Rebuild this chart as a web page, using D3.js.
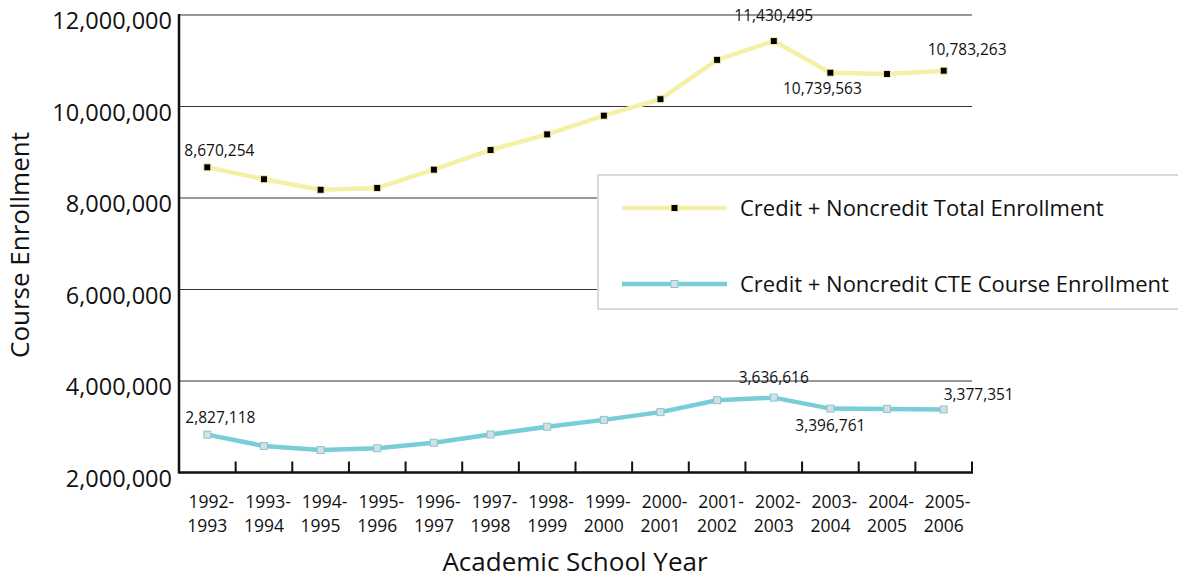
<!DOCTYPE html>
<html>
<head>
<meta charset="utf-8">
<script src="https://cdn.jsdelivr.net/npm/d3@7"></script>
<style>
  body { margin: 0; background: #fff; }
  svg text { font-family: 'Open Sans', 'Noto Sans', sans-serif; fill: #111; }
</style>
</head>
<body>
<svg id="chart" width="1178" height="581"></svg>
<script>
const years = [
  ['1992-', '1993'], ['1993-', '1994'], ['1994-', '1995'], ['1995-', '1996'],
  ['1996-', '1997'], ['1997-', '1998'], ['1998-', '1999'], ['1999-', '2000'],
  ['2000-', '2001'], ['2001-', '2002'], ['2002-', '2003'], ['2003-', '2004'],
  ['2004-', '2005'], ['2005-', '2006'],
]
const totalEnroll = [
  8670254, 8410000, 8180000, 8220000, 8620000, 9050000, 9390000,
  9800000, 10160000, 11020000, 11430495, 10739563, 10710000, 10783263,
]
const cteEnroll = [
  2827118, 2580000, 2490000, 2530000, 2650000, 2830000, 3000000,
  3150000, 3320000, 3580000, 3636616, 3396761, 3390000, 3377351,
]
const yTicks = [2000000, 4000000, 6000000, 8000000, 10000000, 12000000]
// which points get a value label, and where (dx, dy, anchor)
const totalLabels = [
  { i: 0, dx: -23, dy: -11, anchor: 'start' },
  { i: 10, dx: 0, dy: -20, anchor: 'middle' },
  { i: 11, dx: -8, dy: 21, anchor: 'middle' },
  { i: 13, dx: -16, dy: -16, anchor: 'start' },
]
const cteLabels = [
  { i: 0, dx: -22, dy: -12, anchor: 'start' },
  { i: 10, dx: 0, dy: -15, anchor: 'middle' },
  { i: 11, dx: 0, dy: 22, anchor: 'middle' },
  { i: 13, dx: 0, dy: -9, anchor: 'start' },
]

const YELLOW = '#f5f0a8'
const CYAN = '#78cdd8'

const mLeft = 179, mRight = 972, mTop = 15, mBottom = 472.5
const svg = d3.select('#chart')
const fmt = d3.format(',')

const xs = d3.scaleBand().domain(d3.range(years.length)).range([mLeft, mRight])
const ys = d3.scaleLinear().domain([2000000, 12000000]).range([mBottom, mTop])
const cx = (i) => xs(i) + xs.bandwidth() / 2

// grid lines
svg.append('g')
  .selectAll('line')
  .data(yTicks.slice(1))
  .join('line')
  .attr('x1', mLeft).attr('x2', mRight)
  .attr('y1', (d) => ys(d)).attr('y2', (d) => ys(d))
  .attr('stroke', '#333').attr('stroke-width', 1.2)

// y tick labels
svg.append('g')
  .selectAll('text')
  .data(yTicks)
  .join('text')
  .attr('x', mLeft - 7)
  .attr('y', (d) => ys(d) + 14)
  .attr('text-anchor', 'end')
  .style('font-size', '23.5px')
  .text((d) => fmt(d))

// axes lines
svg.append('line')
  .attr('x1', mLeft).attr('x2', mLeft).attr('y1', mTop - 1).attr('y2', mBottom + 1)
  .attr('stroke', '#111').attr('stroke-width', 2.5)
svg.append('line')
  .attr('x1', mLeft).attr('x2', mRight + 1).attr('y1', mBottom).attr('y2', mBottom)
  .attr('stroke', '#111').attr('stroke-width', 2.5)

// x ticks at band boundaries, pointing up
svg.append('g')
  .selectAll('line')
  .data(d3.range(1, years.length + 1))
  .join('line')
  .attr('x1', (i) => xs(0) + i * xs.step())
  .attr('x2', (i) => xs(0) + i * xs.step())
  .attr('y1', mBottom).attr('y2', mBottom - 11)
  .attr('stroke', '#111').attr('stroke-width', 2)

// x tick labels
let xl = svg.append('g')
  .selectAll('text')
  .data(years)
  .join('text')
  .attr('text-anchor', 'middle')
  .style('font-size', '17.5px')
xl.append('tspan').attr('x', (d, i) => cx(i) + 4).attr('y', 508).text((d) => d[0])
xl.append('tspan').attr('x', (d, i) => cx(i)).attr('y', 532).text((d) => d[1])

// axis titles
svg.append('text')
  .attr('x', 575).attr('y', 571)
  .attr('text-anchor', 'middle')
  .style('font-size', '26px')
  .text('Academic School Year')
svg.append('text')
  .attr('transform', 'translate(29, 245) rotate(-90)')
  .attr('text-anchor', 'middle')
  .style('font-size', '26px')
  .text('Course Enrollment')

const line = d3.line().x((d, i) => cx(i)).y((d) => ys(d))

function drawSeries(values, color, markFill, markStroke, labels) {
  svg.append('path')
    .datum(values)
    .attr('d', line)
    .attr('fill', 'none')
    .attr('stroke', color)
    .attr('stroke-width', 4.5)
    .attr('stroke-linejoin', 'round')
  svg.append('g')
    .selectAll('rect')
    .data(values)
    .join('rect')
    .attr('x', (d, i) => cx(i) - 3.5)
    .attr('y', (d) => ys(d) - 3.5)
    .attr('width', 7).attr('height', 7)
    .attr('fill', markFill)
    .attr('stroke', markStroke).attr('stroke-width', 1)
  svg.append('g')
    .selectAll('text')
    .data(labels)
    .join('text')
    .attr('x', (d) => cx(d.i) + d.dx)
    .attr('y', (d) => ys(values[d.i]) + d.dy)
    .attr('text-anchor', (d) => d.anchor)
    .style('font-size', '15.5px')
    .text((d) => fmt(values[d.i]))
}

drawSeries(totalEnroll, YELLOW, '#000', YELLOW, totalLabels)
drawSeries(cteEnroll, CYAN, '#dcdcdc', CYAN, cteLabels)

// legend
let lg = svg.append('g').attr('transform', 'translate(598, 175)')
lg.append('rect')
  .attr('width', 590).attr('height', 134)
  .attr('fill', '#fff').attr('stroke', '#dadada').attr('stroke-width', 2)
const legendItems = [
  { name: 'Credit + Noncredit Total Enrollment', color: YELLOW, fill: '#000', y: 33 },
  { name: 'Credit + Noncredit CTE Course Enrollment', color: CYAN, fill: '#dcdcdc', y: 109 },
]
legendItems.forEach((it) => {
  lg.append('line')
    .attr('x1', 24).attr('x2', 129).attr('y1', it.y).attr('y2', it.y)
    .attr('stroke', it.color).attr('stroke-width', 4.5)
  lg.append('rect')
    .attr('x', 73).attr('y', it.y - 3.5).attr('width', 7).attr('height', 7)
    .attr('fill', it.fill).attr('stroke', it.color)
  lg.append('text')
    .attr('x', 142).attr('y', it.y + 8)
    .style('font-size', '22px')
    .text(it.name)
})
</script>
</body>
</html>
